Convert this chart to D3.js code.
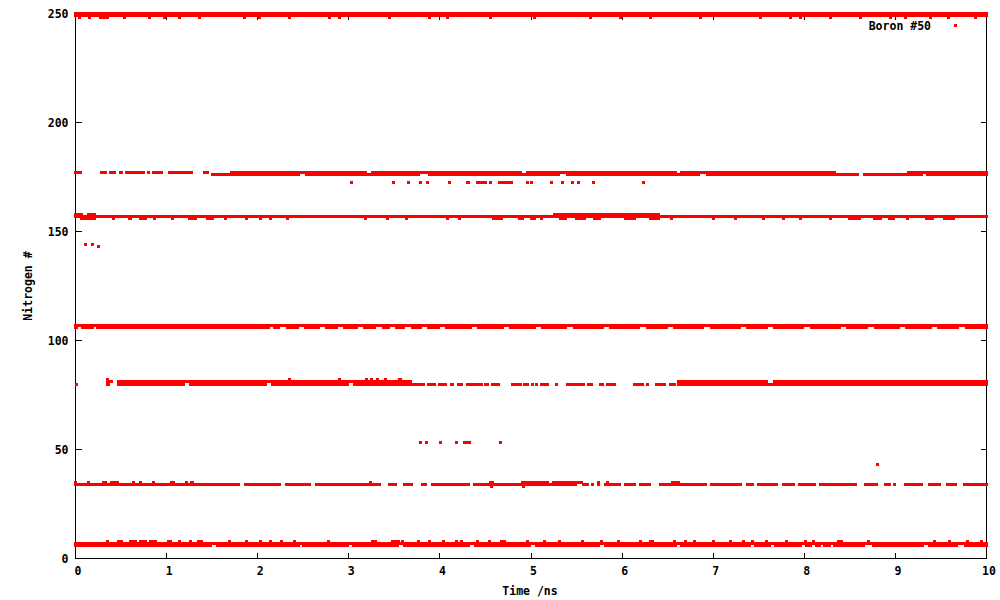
<!DOCTYPE html>
<html><head><meta charset="utf-8">
<script src="https://cdn.jsdelivr.net/npm/d3@7"></script>
<style>body{margin:0;background:#fff}svg{display:block}</style>
</head><body>
<svg id="chart" width="1000" height="600"></svg>
<script>
// ---- data (time in ns; each run [t0, t1] = contiguous samples at that nitrogen index) ----
const seriesName = "Boron #50";
const xTitle = "Time /ns";
const yTitle = "Nitrogen #";
const xTickValues = [0,1,2,3,4,5,6,7,8,9,10];
const yTickValues = [0,50,100,150,200,250];

const n250 = [[0,10]];
const n249 = [[0,10]];
const n248 = [[0.04,0.04],[0.15,0.15],[0.26,0.37],[0.54,0.54],[0.81,0.81],[0.98,0.98],[1.14,1.14],[1.36,1.36],[1.86,1.86],[2.02,2.02],[2.35,2.35],[2.79,2.79],[2.90,2.90],[3.45,3.45],[3.89,3.89],[4.08,4.08],[4.55,4.55],[5.04,5.04],[5.65,5.65],[5.98,5.98],[6.31,6.31],[6.86,6.86],[7.52,7.52],[7.85,7.85],[7.96,7.96],[8.29,8.29],[8.62,8.62],[8.95,8.95],[9.11,9.11],[9.38,9.38],[9.58,9.58],[9.88,9.88]];

const n177 = [[0,0.07],[0.27,0.35],[0.37,0.45],[0.48,0.52],[0.54,0.57],[0.58,0.76],[0.78,0.81],[0.84,0.96],[1.02,1.29],[1.40,1.47],[1.70,3.20],[3.24,4.90],[4.94,6.60],[6.64,8.35],[9.13,10]];
const n176 = [[1.49,1.70],[1.70,2.46],[2.52,3.78],[3.87,5.32],[5.38,6.86],[6.92,8.60],[8.64,9.30],[9.34,10]];
const n172 = [[3.03,3.03],[3.49,3.49],[3.65,3.65],[3.79,3.79],[3.86,3.86],[4.10,4.10],[4.29,4.33],[4.40,4.52],[4.56,4.56],[4.64,4.80],[4.96,4.96],[5.01,5.01],[5.23,5.23],[5.35,5.35],[5.46,5.46],[5.52,5.52],[5.69,5.69],[6.23,6.23]];

const n158 = [[0,0.08],[0.13,0.23],[5.24,6.42]];
const n157 = [[0,10]];
const n156 = [[0.05,0.23],[0.42,0.42],[0.58,0.62],[0.70,0.78],[0.87,0.87],[1.07,1.07],[1.23,1.33],[1.43,1.52],[1.65,1.65],[1.88,1.88],[2.01,2.05],[2.12,2.16],[2.33,2.33],[3.18,3.18],[3.43,3.43],[3.63,3.63],[4.08,4.08],[4.21,4.21],[4.57,4.69],[4.86,4.92],[4.99,5.05],[5.12,5.12],[5.31,5.40],[5.48,5.60],[5.68,5.77],[6.02,6.15],[6.29,6.42],[6.54,6.54],[7.00,7.00],[7.25,7.25],[7.55,7.55],[7.77,7.77],[7.96,7.96],[8.29,8.29],[8.48,8.62],[8.75,8.85],[8.92,9.00],[9.13,9.13],[9.33,9.42],[9.52,9.65]];
const n144 = [[0.11,0.11],[0.19,0.19]];
const n143 = [[0.25,0.25]];

const n107 = [[0,10]];
const n106 = [[0,0.03],[0.06,0.20],[0.23,2.13],[2.17,2.25],[2.31,2.45],[2.51,2.68],[2.74,2.88],[2.94,3.10],[3.16,3.30],[3.36,3.45],[3.51,3.62],[3.68,3.80],[3.86,4.00],[4.06,4.35],[4.41,4.70],[4.76,5.05],[5.11,5.40],[5.46,5.80],[5.86,6.20],[6.26,6.50],[6.56,6.90],[6.96,7.30],[7.36,7.60],[7.66,8.00],[8.06,8.40],[8.46,8.70],[8.76,9.05],[9.11,9.40],[9.46,9.70],[9.76,10]];

const n82 = [[0.34,0.36],[2.35,2.35],[2.90,2.90],[3.19,3.19],[3.25,3.25],[3.32,3.32],[3.40,3.40],[3.54,3.58]];
const n81 = [[0.34,0.41],[0.46,2.26],[2.26,3.69],[6.60,7.60],[7.66,10]];
const n80 = [[0.01,0.01],[0.34,0.38],[0.46,1.20],[1.25,2.10],[2.15,3.00],[3.05,3.69],[3.69,3.84],[3.86,3.96],[3.98,4.08],[4.11,4.16],[4.19,4.25],[4.29,4.47],[4.48,4.54],[4.56,4.66],[4.78,4.90],[4.91,4.98],[5.00,5.02],[5.04,5.08],[5.10,5.20],[5.26,5.30],[5.38,5.41],[5.42,5.59],[5.62,5.68],[5.75,5.80],[5.82,5.93],[6.12,6.24],[6.26,6.30],[6.36,6.48],[6.51,6.59],[6.60,10]];

const n53 = [[3.77,3.80],[3.85,3.85],[4.01,4.01],[4.18,4.18],[4.25,4.27],[4.29,4.34],[4.67,4.67]];
const n43 = [[8.80,8.80]];

const n35 = [[0,0.02],[0.13,0.16],[0.29,0.35],[0.38,0.48],[0.62,0.65],[0.70,0.73],[0.84,0.87],[1.04,1.09],[1.20,1.23],[1.26,1.30],[3.24,3.24],[4.54,4.59],[4.89,5.20],[5.23,5.57],[5.74,5.74],[5.84,5.84],[6.54,6.64]];
const n34 = [[0,1.81],[1.85,2.26],[2.30,2.58],[2.63,3.35],[3.43,3.53],[3.60,3.71],[3.79,3.86],[3.90,4.33],[4.36,5.51],[5.56,5.64],[5.67,5.67],[5.74,5.74],[5.80,5.99],[6.02,6.15],[6.19,6.32],[6.40,6.93],[6.97,7.32],[7.36,7.45],[7.48,7.71],[7.75,7.90],[7.93,8.13],[8.16,8.58],[8.65,8.81],[8.87,8.95],[8.97,9.00],[9.09,9.30],[9.36,9.50],[9.56,9.68],[9.74,10]];
const n33 = [[4.57,4.57],[4.92,4.92]];

const n8 = [[0.34,0.37],[0.46,0.52],[0.59,0.67],[0.70,0.78],[0.81,0.89],[1.00,1.06],[1.14,1.14],[1.25,1.28],[1.33,1.40],[1.69,1.69],[1.88,1.88],[2.01,2.04],[2.12,2.16],[2.26,2.26],[2.40,2.40],[2.78,2.78],[3.24,3.31],[3.46,3.56],[3.59,3.59],[3.76,3.76],[3.89,3.89],[4.04,4.04],[4.18,4.18],[4.24,4.24],[4.41,4.41],[4.54,4.54],[4.66,4.73],[4.96,4.96],[5.15,5.15],[5.31,5.31],[5.57,5.57],[5.77,5.77],[5.96,5.96],[6.19,6.22],[6.30,6.35],[6.57,6.57],[6.70,6.70],[6.80,6.80],[7.00,7.00],[7.19,7.19],[7.32,7.35],[7.42,7.45],[7.58,7.58],[7.80,7.80],[8.00,8.03],[8.08,8.10],[8.36,8.42],[8.71,8.71],[9.43,9.43],[9.59,9.59],[9.78,9.81],[9.95,9.95]];
const n7 = [[0,10]];
const n6 = [[0,1.50],[1.54,2.46],[2.49,3.00],[3.04,3.55],[3.59,4.33],[4.37,5.00],[5.04,5.76],[5.80,6.60],[6.64,7.41],[7.45,7.63],[7.67,7.98],[8.01,8.09],[8.12,8.18],[8.21,8.29],[8.32,8.67],[8.74,9.31],[9.36,9.69],[9.75,10]];

const levelValues = [250,249,248,177,176,172.5,158,157,156,144,143,107,106,82,81,80,53,43,35,34,33,8,7,6];
const levelRuns   = [n250,n249,n248,n177,n176,n172,n158,n157,n156,n144,n143,n107,n106,n82,n81,n80,n53,n43,n35,n34,n33,n8,n7,n6];

// ---- drawing ----
const svg = d3.select("#chart");
const W = 1000, H = 600;
svg.append("rect").attr("width", W).attr("height", H).attr("fill", "#fff");

const x = d3.scaleLinear().domain([0, 10]).range([75.5, 986.5]);
const y = d3.scaleLinear().domain([0, 250]).range([558.5, 13.5]);
const FONT = "'DejaVu Sans Mono', 'Liberation Mono', monospace";
const TICK = 6;

const axes = svg.append("g").attr("shape-rendering", "crispEdges").attr("stroke", "#000").attr("stroke-width", 1);
// ticks (inward, mirrored)
xTickValues.forEach(t => {
  const px = Math.round(x(t) - 0.5) + 0.5;
  axes.append("line").attr("x1", px).attr("x2", px).attr("y1", 558.5).attr("y2", 558.5 - TICK);
  axes.append("line").attr("x1", px).attr("x2", px).attr("y1", 13.5).attr("y2", 13.5 + TICK);
});
yTickValues.forEach(v => {
  const py = Math.round(y(v) - 0.5) + 0.5;
  axes.append("line").attr("x1", 75.5).attr("x2", 75.5 + TICK).attr("y1", py).attr("y2", py);
  axes.append("line").attr("x1", 986.5).attr("x2", 986.5 - TICK).attr("y1", py).attr("y2", py);
});
// border
axes.append("rect").attr("x", 75.5).attr("y", 13.5).attr("width", 911).attr("height", 545).attr("fill", "none");

// tick labels
const labels = svg.append("g").attr("font-family", FONT).attr("font-weight", "bold").attr("font-size", "11.5px").attr("fill", "#000");
xTickValues.forEach(t => {
  labels.append("text").attr("x", x(t) + 2.5).attr("y", 575).attr("text-anchor", "middle").text(t);
});
yTickValues.forEach(v => {
  labels.append("text").attr("x", 68.5).attr("y", y(v) + 4.5).attr("text-anchor", "end").text(v);
});
labels.append("text").attr("x", 530).attr("y", 595).attr("text-anchor", "middle").text(xTitle);
labels.append("text").attr("transform", "translate(32,286) rotate(-90)").attr("text-anchor", "middle").text(yTitle);

// data marks
const marks = svg.append("g").attr("fill", "#ff0000").attr("shape-rendering", "crispEdges");
const flat = [];
levelValues.forEach((lv, i) => levelRuns[i].forEach(r => flat.push({lv, t0: r[0], t1: r[1]})));
marks.selectAll("rect").data(flat).join("rect")
  .attr("x", d => {
    if (d.t0 === d.t1 || d.t0 === 0) return x(d.t0) - 1.5;
    return x(d.t0);
  })
  .attr("width", d => {
    if (d.t0 === d.t1) return 3;
    const a = d.t0 === 0 ? x(d.t0) - 1.5 : x(d.t0);
    const b = d.t1 === 10 ? x(d.t1) + 1.5 : x(d.t1);
    return Math.max(3, b - a);
  })
  .attr("y", d => y(d.lv) - 1.5)
  .attr("height", 3);

// legend
labels.append("text").attr("x", 931).attr("y", 30).attr("text-anchor", "end").text(seriesName);
marks.append("rect").attr("x", 954).attr("y", 24).attr("width", 3).attr("height", 3);
</script>
</body></html>
